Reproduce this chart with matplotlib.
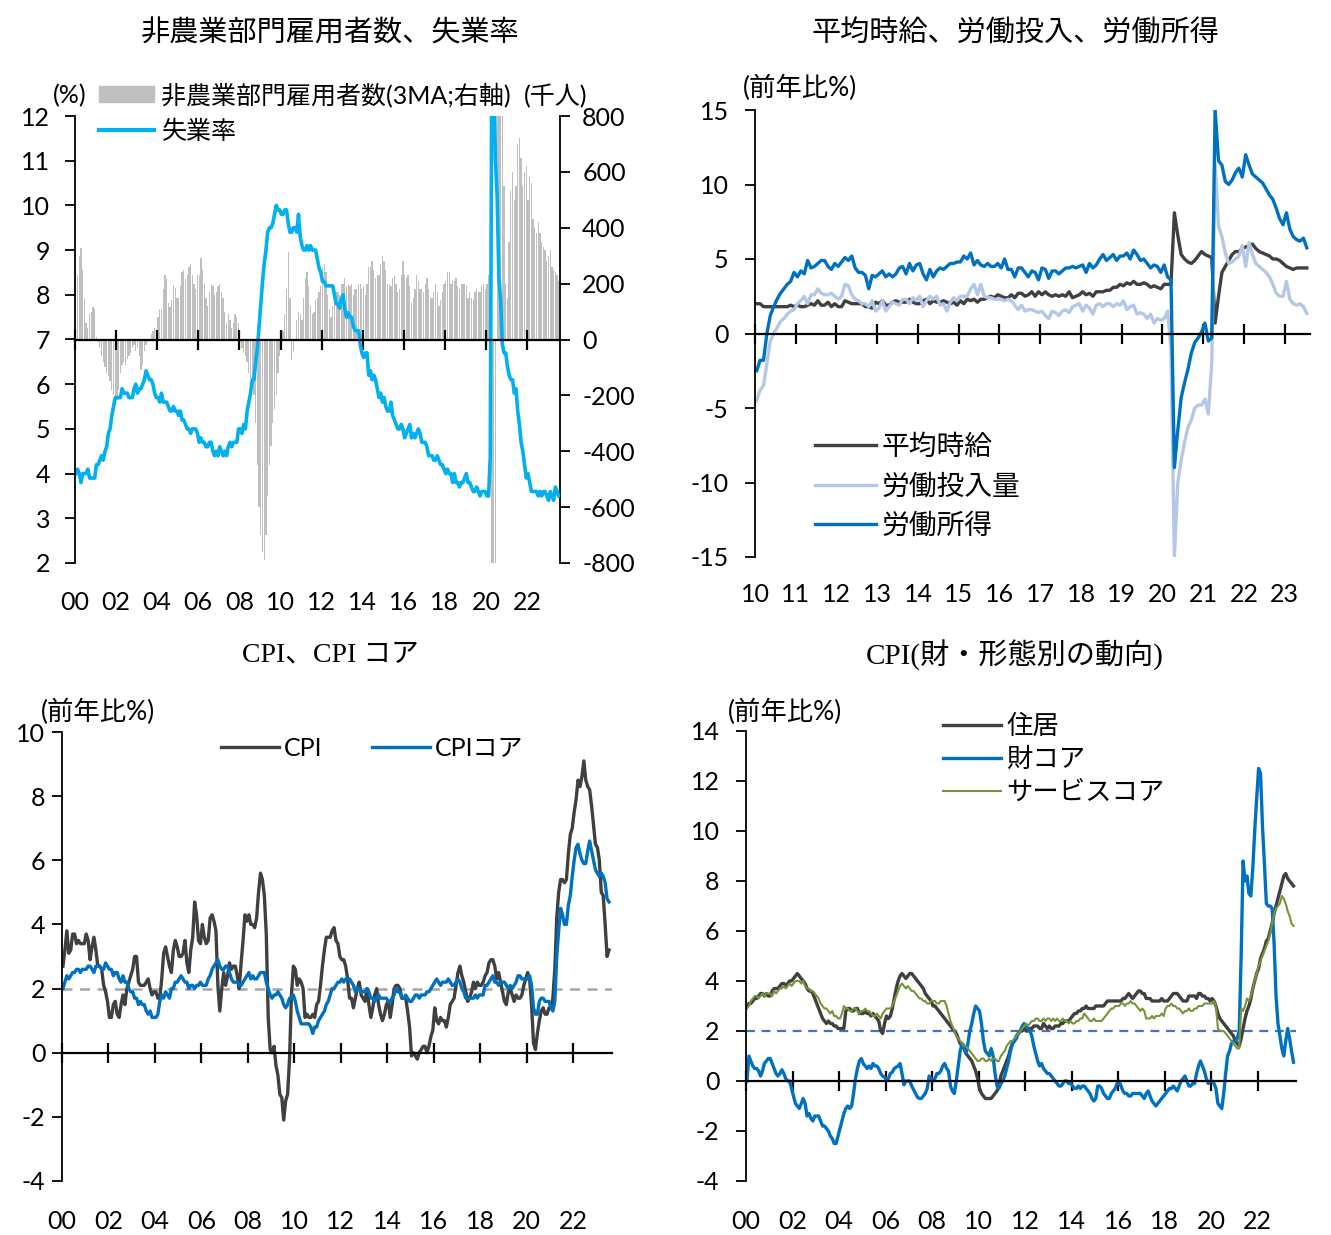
import numpy as np
import matplotlib.pyplot as plt
from matplotlib.patches import Patch
from matplotlib.lines import Line2D

plt.rcParams['font.family'] = ['Lato', 'Noto Sans CJK JP']
plt.rcParams['axes.unicode_minus'] = False

# ---- panel 1: payrolls (3MA, thousand) and unemployment rate (%) , monthly 2000-01 .. 2023-07
payroll_3ma = [
    200, 230, 300, 326, 250, 150, 60, 40, 90, 100, 117, 110,          # 2000
    10, -10, -30, -60, -80, -100, -120, -130, -150, -180, -200, -205,  # 2001
    -215, -180, -120, -90, -80, -90, -70, -60, -50, -30, -20, -40,     # 2002
    -30, -60, -110, -90, -40, -20, -10, 0, 20, 30, 40, 30,             # 2003
    80, 110, 110, 180, 230, 215, 130, 117, 140, 195, 185, 150,         # 2004
    150, 190, 240, 250, 215, 230, 260, 272, 230, 200, 180, 230,        # 2005
    230, 290, 250, 200, 150, 120, 170, 200, 190, 160, 170, 190,        # 2006
    200, 170, 150, 100, 60, 90, 70, 40, 60, 90, 80, 60,                # 2007
    -10, -30, -50, -60, -80, -120, -140, -160, -200, -300, -450, -600,  # 2008
    -700, -760, -790, -700, -560, -450, -380, -300, -250, -200, -120, -60,  # 2009
    -30, 30, 90, 180, 314, 150, -74, -40, 0, 70, 100, 90,              # 2010
    70, 150, 220, 240, 190, 120, 90, 100, 140, 150, 170, 190,          # 2011
    260, 270, 240, 160, 110, 80, 120, 150, 170, 170, 160, 200,         # 2012
    200, 220, 190, 200, 190, 200, 160, 180, 180, 200, 200, 180,        # 2013
    190, 160, 200, 260, 260, 280, 250, 220, 230, 230, 270, 300,        # 2014
    280, 250, 200, 200, 190, 220, 230, 200, 170, 180, 230, 280,        # 2015
    230, 220, 230, 190, 130, 150, 180, 230, 210, 180, 180, 170,        # 2016
    200, 220, 180, 150, 150, 170, 200, 170, 120, 140, 170, 200,        # 2017
    210, 240, 240, 200, 210, 210, 220, 190, 180, 200, 200, 200,        # 2018
    190, 150, 170, 150, 140, 170, 180, 170, 170, 190, 200, 180,        # 2019
    200, 230, -300, -7200, -6300, -4900, 3100, 2700, 1340, 990, 550, 200,  # 2020
    150, 350, 530, 600, 500, 550, 700, 720, 650, 550, 600, 620,        # 2021
    500, 580, 560, 430, 400, 380, 420, 380, 350, 330, 320, 280,        # 2022
    300, 320, 260, 250, 240, 230, 210,                                  # 2023
]
unemp_rate = [
    4.0, 4.1, 4.0, 3.8, 4.0, 4.0, 4.0, 4.1, 3.9, 3.9, 3.9, 3.9,
    4.2, 4.2, 4.3, 4.4, 4.3, 4.5, 4.6, 4.9, 5.0, 5.3, 5.5, 5.7,
    5.7, 5.7, 5.7, 5.9, 5.8, 5.8, 5.8, 5.7, 5.7, 5.7, 5.9, 6.0,
    5.8, 5.9, 5.9, 6.0, 6.1, 6.3, 6.2, 6.1, 6.1, 6.0, 5.8, 5.7,
    5.7, 5.6, 5.8, 5.6, 5.6, 5.6, 5.5, 5.4, 5.4, 5.5, 5.4, 5.4,
    5.3, 5.4, 5.2, 5.2, 5.1, 5.0, 5.0, 4.9, 5.0, 5.0, 5.0, 4.9,
    4.7, 4.8, 4.7, 4.7, 4.6, 4.6, 4.7, 4.7, 4.5, 4.4, 4.5, 4.4,
    4.6, 4.5, 4.4, 4.5, 4.4, 4.6, 4.7, 4.6, 4.7, 4.7, 4.7, 5.0,
    5.0, 4.9, 5.1, 5.0, 5.4, 5.6, 5.8, 6.1, 6.1, 6.5, 6.8, 7.3,
    7.8, 8.3, 8.7, 9.0, 9.4, 9.5, 9.5, 9.6, 9.8, 10.0, 9.9, 9.9,
    9.8, 9.8, 9.9, 9.9, 9.6, 9.4, 9.4, 9.5, 9.5, 9.4, 9.8, 9.3,
    9.1, 9.0, 9.0, 9.1, 9.0, 9.1, 9.0, 9.0, 9.0, 8.8, 8.6, 8.5,
    8.3, 8.3, 8.2, 8.2, 8.2, 8.2, 8.2, 8.0, 7.8, 7.8, 7.7, 7.9,
    8.0, 7.7, 7.5, 7.6, 7.5, 7.5, 7.3, 7.2, 7.2, 7.2, 6.9, 6.7,
    6.6, 6.7, 6.7, 6.2, 6.3, 6.1, 6.2, 6.1, 5.9, 5.7, 5.8, 5.6,
    5.7, 5.5, 5.4, 5.4, 5.6, 5.3, 5.2, 5.1, 5.0, 5.0, 5.1, 5.0,
    4.8, 4.9, 5.0, 5.1, 4.8, 4.9, 4.8, 4.9, 5.0, 4.9, 4.7, 4.7,
    4.7, 4.6, 4.4, 4.4, 4.4, 4.3, 4.3, 4.4, 4.3, 4.2, 4.2, 4.1,
    4.0, 4.1, 4.0, 4.0, 3.8, 4.0, 3.8, 3.8, 3.7, 3.8, 3.8, 3.9,
    4.0, 3.8, 3.8, 3.7, 3.6, 3.6, 3.7, 3.6, 3.5, 3.6, 3.6, 3.6,
    3.5, 3.5, 4.4, 14.7, 13.2, 11.0, 10.2, 8.4, 7.9, 6.9, 6.7, 6.7,
    6.4, 6.2, 6.1, 6.1, 5.8, 5.9, 5.4, 5.1, 4.7, 4.5, 4.2, 3.9,
    4.0, 3.8, 3.6, 3.6, 3.6, 3.6, 3.5, 3.6, 3.5, 3.6, 3.6, 3.5,
    3.4, 3.6, 3.5, 3.4, 3.7, 3.6, 3.5,
]

# ---- panel 2: wages / labour input / labour income (yoy %), monthly 2010-01 .. 2023-07
avg_hourly_earn = [
    2.0, 2.0, 1.8, 1.8, 1.8, 1.8, 1.8, 1.8, 1.8, 1.8, 1.9, 1.8,
    1.9, 1.8, 1.8, 1.9, 2.0, 1.9, 2.2, 1.9, 1.9, 2.1, 1.8, 2.0,
    1.8, 1.8, 2.2, 2.1, 2.0, 2.0, 2.0, 2.0, 1.8, 1.8, 1.7, 2.1,
    2.0, 2.2, 1.9, 1.9, 2.1, 2.2, 2.1, 2.1, 2.1, 2.3, 2.1, 2.0,
    2.0, 2.2, 2.3, 2.0, 2.2, 2.1, 2.1, 2.2, 2.1, 2.0, 2.1, 1.9,
    2.2, 2.0, 2.3, 2.2, 2.3, 2.1, 2.3, 2.3, 2.4, 2.5, 2.4, 2.6,
    2.5, 2.4, 2.4, 2.6, 2.4, 2.7, 2.7, 2.5, 2.6, 2.8, 2.5, 2.8,
    2.6, 2.8, 2.6, 2.5, 2.6, 2.5, 2.6, 2.5, 2.8, 2.4, 2.5, 2.6,
    2.8, 2.6, 2.7, 2.5, 2.8, 2.8, 2.8, 2.9, 2.9, 3.1, 3.1, 3.3,
    3.2, 3.4, 3.3, 3.5, 3.3, 3.3, 3.4, 3.3, 3.1, 3.2, 3.1, 3.0,
    3.3, 3.3, 3.3, 8.1, 6.6, 5.3, 5.0, 4.8, 4.7, 4.9, 5.2, 5.5,
    5.3, 5.2, 5.1, 0.7, 2.5, 4.1, 4.5, 4.9, 5.3, 5.5, 5.5, 5.7,
    5.8, 5.9, 6.0, 5.7, 5.5, 5.4, 5.3, 5.2, 5.0, 5.0, 4.9, 4.7,
    4.5, 4.4, 4.3, 4.4, 4.4, 4.4, 4.4,
]
labour_input = [
    -4.5, -3.8, -3.5, -2.0, -0.5, 0.0, 0.4, 0.8, 1.0, 1.3, 1.5, 1.6,
    2.0, 2.2, 2.5, 2.0, 2.6, 2.6, 3.0, 2.7, 2.6, 2.6, 2.7, 2.5,
    2.3, 2.5, 3.3, 3.2, 2.6, 2.3, 2.2, 2.0, 2.0, 1.8, 2.2, 1.5,
    1.7, 2.2, 1.5, 1.8, 2.1, 2.0, 1.9, 2.3, 2.3, 2.0, 2.4, 2.2,
    2.5, 1.8, 2.2, 2.5, 2.3, 2.5, 1.9, 2.0, 1.5, 2.1, 2.4, 2.2,
    2.5, 2.5, 2.5, 3.0, 3.3, 2.6, 3.3, 2.5, 2.4, 2.4, 2.3, 2.3,
    2.3, 2.2, 2.3, 2.2, 1.9, 1.6, 1.9, 1.5, 1.6, 1.6, 1.5, 1.4,
    1.5, 1.2, 1.0, 1.5, 1.4, 1.2, 1.5, 1.6, 1.4, 1.8, 1.9, 2.0,
    1.5, 1.9, 1.7, 1.3, 1.9, 2.0, 1.8, 2.0, 2.0, 1.8, 2.0, 1.9,
    2.2, 1.6, 1.8, 1.9, 1.3, 1.4, 1.3, 1.0, 1.3, 0.7, 1.0, 0.9,
    1.0, 1.5, -1.0, -15.0, -10.0, -8.5, -7.3, -6.3, -5.8, -5.0, -4.8, -4.8,
    -4.4, -5.4, -2.0, 11.5, 7.2, 6.5, 5.4, 4.7, 4.8, 5.0, 5.2, 5.9,
    4.5, 6.1, 5.3, 4.7, 4.5, 4.3, 4.1, 3.8, 3.3, 2.7, 2.5, 2.5,
    3.5, 2.3, 2.0, 1.9, 2.0, 1.8, 1.35,
]
labour_income = [
    -2.5, -1.8, -1.8, 0.0, 1.2, 1.8, 2.3, 2.7, 3.0, 3.3, 3.5, 4.1,
    3.8, 4.2, 4.0, 4.9, 4.4, 4.5, 4.7, 4.9, 4.9, 4.5, 4.3, 4.7,
    4.5, 4.8, 5.1, 4.9, 5.2, 4.4, 4.1, 4.1, 3.9, 3.0, 3.9, 3.8,
    4.0, 4.2, 3.8, 4.0, 3.8, 4.0, 4.4, 4.5, 4.0, 4.7, 4.2, 4.6,
    4.7, 4.0, 3.6, 4.3, 3.8, 4.2, 4.4, 4.3, 4.5, 4.7, 4.7, 4.8,
    4.8, 5.2, 5.0, 5.4, 4.6, 4.9, 4.6, 4.5, 4.7, 4.5, 4.5, 4.7,
    4.4, 5.0, 4.3, 4.3, 3.8, 4.4, 4.4, 4.1, 3.8, 4.2, 4.1, 3.6,
    4.4, 4.3, 3.7, 4.2, 4.2, 4.0, 4.2, 4.4, 4.4, 4.5, 4.4, 4.5,
    4.6, 4.1, 4.7, 4.4, 4.6, 5.0, 5.3, 4.9, 5.1, 5.3, 4.9, 5.2,
    5.2, 5.4, 5.0, 5.6, 5.3, 4.9, 5.0, 4.7, 4.4, 4.6, 4.5, 4.1,
    4.6, 3.8, 3.6, -9.0, -6.5, -4.3, -3.3, -2.4, -1.3, -0.6, -0.3, 0.1,
    0.7, -0.5, -0.3, 15.0, 11.6, 11.3, 10.2, 10.0, 10.3, 10.8, 11.1, 10.5,
    12.0, 11.3, 10.7, 10.5, 10.3, 10.1, 9.7, 9.3, 9.0, 8.4, 7.7, 7.3,
    8.1, 7.0, 6.5, 6.3, 6.2, 6.4, 5.75,
]

# ---- panel 3: CPI / core CPI (yoy %), monthly 2000-01 .. 2023-07
cpi_all = [
    2.7, 3.2, 3.8, 3.1, 3.2, 3.7, 3.7, 3.4, 3.5, 3.4, 3.4, 3.4,
    3.7, 3.5, 2.9, 3.3, 3.6, 3.2, 2.7, 2.7, 2.6, 2.1, 1.9, 1.6,
    1.1, 1.1, 1.5, 1.6, 1.2, 1.1, 1.5, 1.8, 1.5, 2.0, 2.2, 2.4,
    2.6, 3.0, 3.0, 2.2, 2.1, 2.1, 2.1, 2.2, 2.3, 2.0, 1.8, 1.9,
    1.9, 1.7, 1.7, 2.3, 3.1, 3.3, 3.0, 2.7, 2.5, 3.2, 3.5, 3.3,
    3.0, 3.0, 3.1, 3.5, 2.8, 2.5, 3.2, 3.6, 4.7, 4.3, 3.5, 3.4,
    4.0, 3.6, 3.4, 3.5, 4.2, 4.3, 4.1, 3.8, 2.1, 1.3, 2.0, 2.5,
    2.1, 2.4, 2.8, 2.6, 2.7, 2.7, 2.4, 2.0, 2.8, 3.5, 4.3, 4.1,
    4.3, 4.0, 4.0, 3.9, 4.2, 5.0, 5.6, 5.4, 4.9, 3.7, 1.1, 0.1,
    0.0, 0.2, -0.4, -0.7, -1.3, -1.4, -2.1, -1.5, -1.3, -0.2, 1.8, 2.7,
    2.6, 2.1, 2.3, 2.2, 2.0, 1.1, 1.2, 1.1, 1.1, 1.2, 1.1, 1.5,
    1.6, 2.1, 2.7, 3.2, 3.6, 3.6, 3.6, 3.8, 3.9, 3.5, 3.4, 3.0,
    2.9, 2.9, 2.7, 2.3, 1.7, 1.7, 1.4, 1.7, 2.0, 2.2, 1.8, 1.7,
    1.6, 2.0, 1.5, 1.1, 1.4, 1.8, 2.0, 1.5, 1.2, 1.0, 1.2, 1.5,
    1.6, 1.1, 1.5, 2.0, 2.1, 2.1, 2.0, 1.7, 1.7, 1.7, 1.3, 0.8,
    -0.1, 0.0, -0.1, -0.2, 0.0, 0.1, 0.2, 0.2, 0.0, 0.2, 0.5, 0.7,
    1.4, 1.0, 0.9, 1.1, 1.0, 1.0, 0.8, 1.1, 1.5, 1.6, 1.7, 2.1,
    2.5, 2.7, 2.4, 2.2, 1.9, 1.6, 1.7, 1.9, 2.2, 2.0, 2.2, 2.1,
    2.1, 2.2, 2.4, 2.5, 2.8, 2.9, 2.9, 2.7, 2.3, 2.5, 2.2, 1.9,
    1.6, 1.5, 1.9, 2.0, 1.8, 1.6, 1.8, 1.7, 1.7, 1.8, 2.1, 2.3,
    2.5, 2.3, 1.5, 0.3, 0.1, 0.6, 1.0, 1.3, 1.4, 1.2, 1.2, 1.4,
    1.4, 1.7, 2.6, 4.2, 5.0, 5.4, 5.4, 5.3, 5.4, 6.2, 6.8, 7.0,
    7.5, 7.9, 8.5, 8.3, 8.6, 9.1, 8.5, 8.3, 8.2, 7.7, 7.1, 6.5,
    6.4, 6.0, 5.0, 4.9, 4.0, 3.0, 3.2,
]
cpi_core = [
    2.0, 2.2, 2.4, 2.3, 2.4, 2.5, 2.5, 2.6, 2.6, 2.5, 2.6, 2.6,
    2.6, 2.7, 2.7, 2.6, 2.5, 2.7, 2.7, 2.7, 2.6, 2.6, 2.8, 2.7,
    2.6, 2.6, 2.4, 2.5, 2.5, 2.3, 2.2, 2.4, 2.2, 2.2, 2.0, 1.9,
    1.9, 1.7, 1.7, 1.5, 1.6, 1.5, 1.5, 1.3, 1.2, 1.3, 1.1, 1.1,
    1.1, 1.2, 1.6, 1.8, 1.7, 1.9, 1.8, 1.7, 2.0, 2.0, 2.2, 2.2,
    2.3, 2.4, 2.3, 2.2, 2.2, 2.0, 2.1, 2.1, 2.0, 2.1, 2.1, 2.2,
    2.1, 2.1, 2.1, 2.3, 2.4, 2.6, 2.7, 2.8, 2.9, 2.7, 2.6, 2.6,
    2.7, 2.7, 2.5, 2.3, 2.2, 2.2, 2.2, 2.1, 2.1, 2.2, 2.3, 2.4,
    2.5, 2.3, 2.4, 2.3, 2.3, 2.4, 2.5, 2.5, 2.5, 2.2, 2.0, 1.8,
    1.7, 1.8, 1.8, 1.9, 1.8, 1.7, 1.5, 1.4, 1.5, 1.7, 1.7, 1.8,
    1.6, 1.3, 1.1, 0.9, 0.9, 0.9, 0.9, 0.9, 0.8, 0.6, 0.8, 0.8,
    1.0, 1.1, 1.2, 1.3, 1.5, 1.6, 1.8, 2.0, 2.0, 2.1, 2.2, 2.2,
    2.3, 2.2, 2.3, 2.3, 2.3, 2.2, 2.1, 1.9, 2.0, 2.0, 1.9, 1.9,
    1.9, 2.0, 1.9, 1.7, 1.7, 1.6, 1.7, 1.8, 1.7, 1.7, 1.7, 1.7,
    1.6, 1.6, 1.7, 1.8, 2.0, 1.9, 1.9, 1.7, 1.7, 1.8, 1.7, 1.6,
    1.6, 1.7, 1.8, 1.8, 1.7, 1.8, 1.8, 1.8, 1.9, 1.9, 2.0, 2.1,
    2.2, 2.3, 2.2, 2.1, 2.2, 2.2, 2.2, 2.3, 2.2, 2.1, 2.1, 2.2,
    2.3, 2.2, 2.0, 1.9, 1.7, 1.7, 1.7, 1.7, 1.7, 1.8, 1.7, 1.8,
    1.8, 1.8, 2.1, 2.1, 2.2, 2.3, 2.4, 2.2, 2.2, 2.1, 2.2, 2.2,
    2.2, 2.1, 2.0, 2.1, 2.0, 2.1, 2.2, 2.4, 2.4, 2.3, 2.3, 2.3,
    2.3, 2.4, 2.1, 1.4, 1.2, 1.2, 1.6, 1.7, 1.7, 1.6, 1.6, 1.6,
    1.4, 1.3, 1.6, 3.0, 3.8, 4.5, 4.3, 4.0, 4.0, 4.6, 4.9, 5.5,
    6.0, 6.4, 6.5, 6.2, 6.0, 5.9, 5.9, 6.3, 6.6, 6.3, 6.0, 5.7,
    5.6, 5.5, 5.6, 5.5, 5.3, 4.8, 4.7,
]

# ---- panel 4: shelter / core goods / core services (yoy %), monthly 2000-01 .. 2023-07
shelter = [
    3.0, 3.1, 3.1, 3.2, 3.3, 3.3, 3.4, 3.5, 3.5, 3.4, 3.5, 3.4,
    3.4, 3.6, 3.7, 3.7, 3.7, 3.8, 3.9, 3.9, 3.8, 3.9, 4.0, 4.0,
    4.1, 4.2, 4.3, 4.2, 4.1, 4.0, 3.9, 3.7, 3.6, 3.6, 3.5, 3.3,
    3.1, 2.9, 2.7, 2.5, 2.4, 2.3, 2.4, 2.3, 2.3, 2.2, 2.2, 2.1,
    2.1, 2.1, 2.1, 2.8, 2.9, 2.9, 2.8, 2.8, 2.9, 2.9, 2.7, 2.7,
    2.7, 2.8, 2.7, 2.7, 2.6, 2.7, 2.6, 2.5, 2.4, 2.0, 1.9, 2.3,
    2.6, 2.5, 2.6, 2.9, 3.3, 3.7, 4.0, 4.2, 4.3, 4.2, 4.1, 4.2,
    4.3, 4.3, 4.2, 4.1, 4.0, 3.9, 3.8, 3.7, 3.5, 3.4, 3.3, 3.2,
    3.0, 3.0, 2.9, 2.8, 2.7, 2.6, 2.5, 2.4, 2.3, 2.2, 2.1, 2.0,
    1.9, 1.7, 1.5, 1.4, 1.3, 1.1, 1.0, 0.9, 0.8, 0.6, 0.4, 0.1,
    -0.3, -0.5, -0.6, -0.7, -0.7, -0.7, -0.7, -0.6, -0.5, -0.4, -0.2, 0.2,
    0.4, 0.6, 0.8, 1.0, 1.3, 1.5, 1.6, 1.8, 1.9, 2.0, 2.0, 2.1,
    2.0, 2.0, 2.1, 2.1, 2.2, 2.2, 2.2, 2.1, 2.1, 2.3, 2.2, 2.1,
    2.2, 2.1, 2.1, 2.2, 2.2, 2.2, 2.3, 2.3, 2.4, 2.4, 2.4, 2.5,
    2.6, 2.7, 2.7, 2.8, 2.8, 2.9, 2.9, 3.0, 2.9, 2.9, 2.9, 2.9,
    3.0, 3.0, 3.0, 3.0, 3.0, 3.1, 3.2, 3.2, 3.2, 3.2, 3.2, 3.2,
    3.2, 3.2, 3.3, 3.3, 3.4, 3.5, 3.4, 3.3, 3.4, 3.5, 3.6, 3.6,
    3.5, 3.5, 3.3, 3.3, 3.3, 3.2, 3.2, 3.2, 3.2, 3.2, 3.3, 3.2,
    3.2, 3.2, 3.3, 3.4, 3.5, 3.5, 3.5, 3.4, 3.3, 3.2, 3.2, 3.2,
    3.4, 3.4, 3.4, 3.4, 3.3, 3.5, 3.5, 3.4, 3.4, 3.3, 3.3, 3.2,
    3.3, 3.2, 3.0, 2.7, 2.5, 2.4, 2.3, 2.2, 2.1, 2.0, 1.9, 1.8,
    1.6, 1.5, 1.4, 1.7, 2.1, 2.5, 2.8, 3.0, 3.3, 3.7, 4.0, 4.3,
    4.5, 4.9, 5.1, 5.3, 5.6, 5.7, 6.0, 6.3, 6.7, 7.0, 7.3, 7.6,
    7.9, 8.2, 8.3, 8.1, 8.0, 7.9, 7.8,
]
core_goods = [
    0.0, 1.0, 0.8, 0.6, 0.5, 0.5, 0.4, 0.2, 0.4, 0.7, 0.8, 0.9,
    0.9, 0.7, 0.5, 0.3, 0.2, 0.3, 0.45, 0.3, 0.1, 0.0, 0.0, -0.3,
    -0.6, -0.9, -1.0, -1.1, -0.9, -0.7, -0.9, -1.4, -1.3, -1.5, -1.6, -1.4,
    -1.4, -1.4, -1.6, -1.8, -1.8, -1.9, -2.0, -2.2, -2.3, -2.5, -2.5, -2.2,
    -1.9, -1.6, -1.3, -1.1, -1.0, -1.1, -1.0, -0.5, 0.1, 0.5, 0.8, 0.9,
    0.7, 0.6, 0.5, 0.6, 0.5, 0.7, 0.6, 0.6, 0.5, 0.3, 0.2, 0.15,
    0.05, 0.1, 0.3, 0.35, 0.5, 0.55, 0.6, 0.7, 0.3, -0.15, 0.0, 0.0,
    0.0, -0.2, -0.35, -0.5, -0.65, -0.7, -0.7, -0.6, -0.5, -0.3, 0.2, 0.1,
    0.0, 0.1, 0.3, 0.3, 0.4, 0.6, 0.7, 0.5, 0.4, -0.2, -0.4, -0.5,
    0.0, 0.6, 1.2, 1.5, 1.4, 1.1, 1.5, 2.0, 2.3, 2.7, 3.0, 2.9,
    2.8, 2.3, 1.6, 1.2, 1.1, 1.0, 1.3, 1.0, 0.3, -0.2, -0.3, -0.1,
    0.0, 0.2, 0.5, 0.8, 1.2, 1.5, 1.6, 1.7, 1.9, 2.0, 2.2, 2.3,
    2.2, 2.1, 2.0, 1.8, 1.4, 1.1, 0.8, 0.6, 0.7, 0.5, 0.4, 0.3,
    0.3, 0.2, 0.1, 0.0, -0.1, -0.2, -0.2, -0.1, 0.0, 0.0, -0.1, -0.1,
    -0.2, -0.3, -0.3, -0.2, -0.3, -0.2, -0.2, -0.3, -0.4, -0.5, -0.7, -0.8,
    -0.7, -0.2, -0.2, -0.3, -0.5, -0.6, -0.7, -0.7, -0.5, -0.4, -0.3, -0.1,
    0.0, -0.2, -0.4, -0.5, -0.5, -0.6, -0.6, -0.5, -0.5, -0.5, -0.5, -0.5,
    -0.6, -0.7, -0.5, -0.4, -0.6, -0.8, -0.9, -1.0, -0.9, -0.8, -0.7, -0.6,
    -0.5, -0.4, -0.3, -0.3, -0.2, -0.3, -0.4, -0.2, 0.0, 0.1, 0.2, 0.0,
    -0.2, -0.2, -0.1, -0.1, 0.3, 0.6, 0.8, 0.6, 0.4, 0.1, -0.1, 0.0,
    0.0, -0.1, -0.3, -0.9, -1.0, -1.1, -0.5, 0.3, 1.0, 1.2, 1.5, 1.6,
    1.6, 1.7, 2.0, 5.0, 8.8, 8.0, 8.2, 7.5, 7.4, 8.5, 10.0, 11.3,
    12.5, 12.3, 10.2, 8.7, 7.1, 7.0, 7.0, 6.9, 5.5, 3.4, 2.3, 1.8,
    1.3, 1.0, 1.6, 2.1, 1.7, 1.2, 0.75,
]
core_services = [
    2.9, 3.0, 3.2, 3.3, 3.4, 3.4, 3.3, 3.4, 3.5, 3.4, 3.5, 3.5,
    3.5, 3.4, 3.6, 3.5, 3.6, 3.7, 3.7, 3.8, 3.7, 3.8, 3.9, 3.8,
    3.9, 4.0, 4.0, 4.0, 3.9, 4.0, 3.8, 3.7, 3.7, 3.6, 3.6, 3.5,
    3.4, 3.3, 3.1, 3.0, 2.9, 2.9, 2.8, 2.7, 2.8, 2.6, 2.6, 2.5,
    2.5, 2.7, 3.0, 2.9, 2.9, 2.8, 2.8, 2.9, 2.9, 2.8, 2.7, 2.8,
    2.8, 2.9, 2.8, 2.8, 2.7, 2.6, 2.6, 2.7, 2.6, 2.5, 2.7, 2.8,
    2.9, 2.9, 2.9, 3.0, 3.2, 3.4, 3.6, 3.8, 3.9, 3.8, 3.7, 3.8,
    3.7, 3.6, 3.6, 3.5, 3.4, 3.3, 3.3, 3.2, 3.2, 3.1, 3.1, 3.2,
    3.2, 3.2, 3.1, 3.1, 3.2, 3.2, 3.2, 3.0, 2.7, 2.4, 2.2, 2.0,
    1.8, 1.7, 1.6, 1.5, 1.4, 1.4, 1.3, 1.2, 1.1, 1.0, 0.9, 0.8,
    0.8, 0.9, 0.9, 0.8, 0.8, 0.9, 0.8, 0.9, 0.9, 0.8, 0.8, 1.0,
    1.1, 1.2, 1.4, 1.5, 1.6, 1.6, 1.7, 1.8, 1.9, 2.0, 2.1, 2.2,
    2.3, 2.2, 2.3, 2.4, 2.4, 2.5, 2.5, 2.4, 2.4, 2.5, 2.4, 2.5,
    2.5, 2.4, 2.5, 2.4, 2.5, 2.4, 2.4, 2.5, 2.4, 2.4, 2.3, 2.4,
    2.3, 2.3, 2.4, 2.4, 2.5, 2.5, 2.7, 2.6, 2.5, 2.4, 2.4, 2.5,
    2.4, 2.4, 2.4, 2.4, 2.5, 2.6, 2.7, 2.8, 2.9, 2.9, 3.0, 3.0,
    3.0, 3.1, 3.1, 3.0, 3.1, 3.1, 3.2, 3.1, 3.1, 3.0, 2.9, 2.8,
    2.9, 2.8, 2.5, 2.5, 2.5, 2.6, 2.5, 2.6, 2.6, 2.6, 2.7, 2.6,
    2.9, 3.0, 3.0, 3.1, 3.0, 3.0, 2.9, 2.9, 2.8, 2.7, 2.8, 2.8,
    2.9, 2.8, 2.8, 2.9, 2.9, 3.0, 3.0, 3.0, 3.1, 3.1, 3.1, 3.1,
    3.1, 3.2, 3.0, 2.1, 2.0, 2.0, 2.0, 1.9, 1.8, 1.7, 1.6, 1.5,
    1.4, 1.3, 1.3, 2.9, 2.8, 3.0, 3.3, 3.2, 3.4, 3.7, 4.0, 4.3,
    4.6, 4.8, 5.0, 5.2, 5.4, 5.6, 5.9, 6.3, 6.7, 6.9, 7.0, 7.1,
    7.4, 7.3, 7.1, 6.8, 6.6, 6.3, 6.2,
]

titles = ['非農業部門雇用者数、失業率', '平均時給、労働投入、労働所得',
          'CPI、CPI コア', 'CPI(財・形態別の動向)']

W, H = 1331, 1235
C_DARK, C_LIGHT, C_BLUE, C_CYAN, C_GREEN, C_BAR = '#404040', '#B4C7E7', '#0070C0', '#00B0F0', '#77933C', '#BFBFBF'
FS = 18


def months(start_year, n):
    return start_year + (np.arange(n) + 0.5) / 12


def box(left, top, right, bottom):
    # pixel box -> figure fraction rect
    return [left / W, 1 - bottom / H, (right - left) / W, (bottom - top) / H]


def style_axes(ax, zero, xt, xlabels, ylim, yticks, ypad, xpad=19):
    ax.set_ylim(*ylim)
    ax.set_yticks(yticks)
    ax.set_yticklabels([f'{v:g}' for v in yticks])
    for s in ['top', 'right']:
        ax.spines[s].set_visible(False)
    ax.spines['left'].set_linewidth(1.3)
    ax.spines['bottom'].set_linewidth(1.6)
    ax.spines['bottom'].set_position(('data', zero))
    ax.tick_params(axis='y', direction='out', length=7, width=1.3, labelsize=FS, pad=ypad)
    ax.set_xticks(xt)
    ax.tick_params(axis='x', direction='inout', length=14, width=1.6, labelbottom=False)
    sec = ax.secondary_xaxis('bottom')
    sec.set_xticks(xt, labels=xlabels)
    sec.tick_params(length=0, labelsize=FS, pad=xpad)
    sec.spines['bottom'].set_visible(False)
    ax.patch.set_visible(False)


fig = plt.figure(figsize=(W / 100, H / 100), dpi=100)

# ---------------- panel 1
t1 = months(2000, len(unemp_rate))
ax1 = fig.add_axes(box(75, 116, 560, 563))
ax1b = ax1.twinx()
ax1b.bar(months(2000, len(payroll_3ma)), payroll_3ma, width=0.75 / 12, color=C_BAR, linewidth=0)
ax1b.set_ylim(-800, 800)
ax1b.set_yticks(range(-800, 801, 200))
ax1b.tick_params(axis='y', direction='out', length=7, width=1.3, labelsize=FS, pad=9)
for s in ['top', 'left', 'bottom']:
    ax1b.spines[s].set_visible(False)
ax1b.spines['right'].set_linewidth(1.3)
ax1.set_zorder(ax1b.get_zorder() + 1)
ax1.plot(t1, unemp_rate, color=C_CYAN, lw=2.6)
ax1.set_xlim(2000, 2023.6)
xt1 = list(range(2000, 2023, 2))
style_axes(ax1, 7, xt1, [f'{y % 100:02d}' for y in xt1], (2, 12), range(2, 13), 11, xpad=20)
fig.text(70 / W, 1 - 96 / H, '(%)', fontsize=FS, ha='center', va='center')
fig.text(556 / W, 1 - 96 / H, '(千人)', fontsize=FS, ha='center', va='center')
ax1.legend([Patch(color=C_BAR), Line2D([], [], color=C_CYAN, lw=3)],
           ['非農業部門雇用者数(3MA;右軸)', '失業率'],
           loc='upper left', bbox_to_anchor=(99 / W, 1 - 82 / H), bbox_transform=fig.transFigure,
           frameon=False, fontsize=FS, handlelength=2.2, handleheight=0.6, handletextpad=0.3,
           labelspacing=0.5, borderpad=0, borderaxespad=0)

# ---------------- panel 2
t2 = months(2010, len(labour_income))
ax2 = fig.add_axes(box(755, 110, 1310, 557))
ax2.plot(t2, avg_hourly_earn, color=C_DARK, lw=2.4, label='平均時給')
ax2.plot(t2, labour_input, color=C_LIGHT, lw=2.4, label='労働投入量')
ax2.plot(t2, labour_income, color=C_BLUE, lw=2.4, label='労働所得')
ax2.set_xlim(2010, 2023.62)
xt2 = list(range(2010, 2024))
style_axes(ax2, 0, xt2, [f'{y % 100:02d}' for y in xt2], (-15, 15), range(-15, 16, 5), 12)
fig.text(800 / W, 1 - 88 / H, '(前年比%)', fontsize=FS + 1, ha='center', va='center')
ax2.legend(loc='upper left', bbox_to_anchor=(815 / W, 1 - 434 / H), bbox_transform=fig.transFigure,
           frameon=False, fontsize=FS + 2, handlelength=2.2, handletextpad=0.2,
           labelspacing=0.48, borderpad=0, borderaxespad=0)

# ---------------- panel 3
t3 = months(2000, len(cpi_all))
ax3 = fig.add_axes(box(62, 732, 612, 1181))
ax3.axhline(2, color='#A6A6A6', lw=1.8, ls=(0, (4, 3)))
ax3.plot(t3, cpi_all, color=C_DARK, lw=2.4, label='CPI')
ax3.plot(t3, cpi_core, color=C_BLUE, lw=2.4, label='CPIコア')
ax3.set_xlim(2000, 2023.67)
xt3 = list(range(2000, 2023, 2))
style_axes(ax3, 0, xt3, [f'{y % 100:02d}' for y in xt3], (-4, 10), range(-4, 11, 2), 5, xpad=21)
fig.text(98 / W, 1 - 712 / H, '(前年比%)', fontsize=FS + 1, ha='center', va='center')
ax3.legend(loc='upper left', bbox_to_anchor=(221 / W, 1 - 737 / H), bbox_transform=fig.transFigure,
           frameon=False, fontsize=FS, ncol=2, handlelength=2.3, handletextpad=0.2,
           columnspacing=2.0, borderpad=0, borderaxespad=0)

# ---------------- panel 4
t4 = months(2000, len(shelter))
ax4 = fig.add_axes(box(746, 731, 1296, 1181))
ax4.axhline(2, color='#4472C4', lw=1.6, ls=(0, (4, 3)))
ax4.plot(t4, shelter, color=C_DARK, lw=2.4, label='住居')
ax4.plot(t4, core_goods, color=C_BLUE, lw=2.4, label='財コア')
ax4.plot(t4, core_services, color=C_GREEN, lw=1.5, label='サービスコア')
ax4.set_xlim(2000, 2023.65)
style_axes(ax4, 0, xt3, [f'{y % 100:02d}' for y in xt3], (-4, 14), range(-4, 15, 2), 12, xpad=21)
fig.text(785 / W, 1 - 712 / H, '(前年比%)', fontsize=FS + 1, ha='center', va='center')
ax4.legend(loc='upper left', bbox_to_anchor=(943 / W, 1 - 714 / H), bbox_transform=fig.transFigure,
           frameon=False, fontsize=FS + 1, handlelength=2.2, handletextpad=0.2,
           labelspacing=0.3, borderpad=0, borderaxespad=0)

# ---------------- titles
fig.text(330 / W, 1 - 33 / H, titles[0], fontsize=21, ha='center', va='center')
fig.text(1015 / W, 1 - 33 / H, titles[1], fontsize=21, ha='center', va='center')
serif = ['Liberation Serif', 'Noto Sans CJK JP']
fig.text(330 / W, 1 - 655 / H, titles[2], fontsize=20, ha='center', va='center', family=serif)
fig.text(1015 / W, 1 - 655 / H, titles[3], fontsize=21, ha='center', va='center', family=serif)

fig.savefig('out.png', dpi=100)
